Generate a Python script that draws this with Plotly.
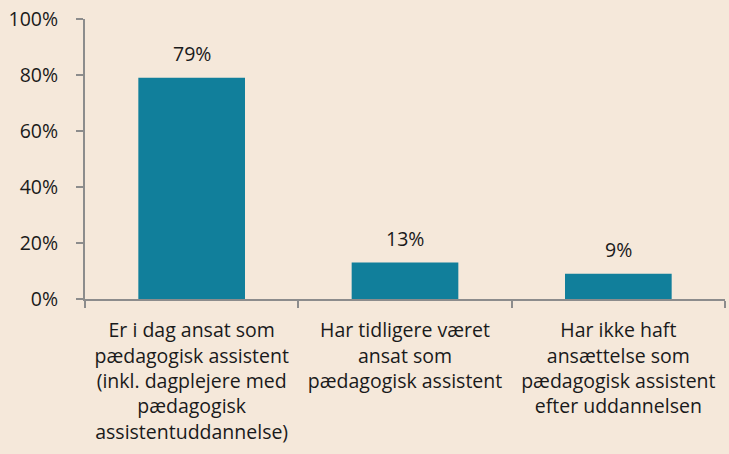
import plotly.graph_objects as go

categories = [
    "Er i dag ansat som<br>pædagogisk assistent<br>(inkl. dagplejere med<br>pædagogisk<br>assistentuddannelse)",
    "Har tidligere været<br>ansat som<br>pædagogisk assistent",
    "Har ikke haft<br>ansættelse som<br>pædagogisk assistent<br>efter uddannelsen",
]
values = [79, 13, 9]
labels = ["79%", "13%", "9%"]
y_ticks = [0, 20, 40, 60, 80, 100]
y_tick_labels = ["0%", "20%", "40%", "60%", "80%", "100%"]

bg = "#F5E8DA"
font_family = "Open Sans, Noto Sans, sans-serif"
font_size = 19.5

fig = go.Figure(go.Bar(
    x=categories, y=values,
    marker=dict(color="#117F9B", line=dict(width=0)),
    width=0.5,
))

for c, v, t in zip(categories, values, labels):
    fig.add_annotation(x=c, y=v, text=t, showarrow=False, yanchor="bottom",
                       yshift=9, font=dict(size=font_size, color="#1a1a1a", family=font_family))

fig.update_layout(
    width=729, height=454,
    margin=dict(l=85, r=4, t=19, b=155),
    paper_bgcolor=bg, plot_bgcolor=bg,
    font=dict(family=font_family, size=font_size, color="#1a1a1a"),
    showlegend=False,
)
fig.update_yaxes(
    range=[0, 100], tickvals=y_ticks, ticktext=y_tick_labels,
    showgrid=False, zeroline=False,
    showline=True, linecolor="#8c8c8c", linewidth=2,
    ticks="outside", ticklen=7, tickcolor="#8c8c8c", tickwidth=2,
    ticklabelstandoff=14,
)
fig.update_xaxes(
    showgrid=False, showline=True, linecolor="#8c8c8c", linewidth=2,
    ticks="outside", ticklen=7, tickcolor="#8c8c8c", tickwidth=2,
    tickson="boundaries", tickangle=0, ticklabelstandoff=13,
)

fig.write_html("out.html", config={"displayModeBar": False},
               post_script="document.body.style.margin='0';")
